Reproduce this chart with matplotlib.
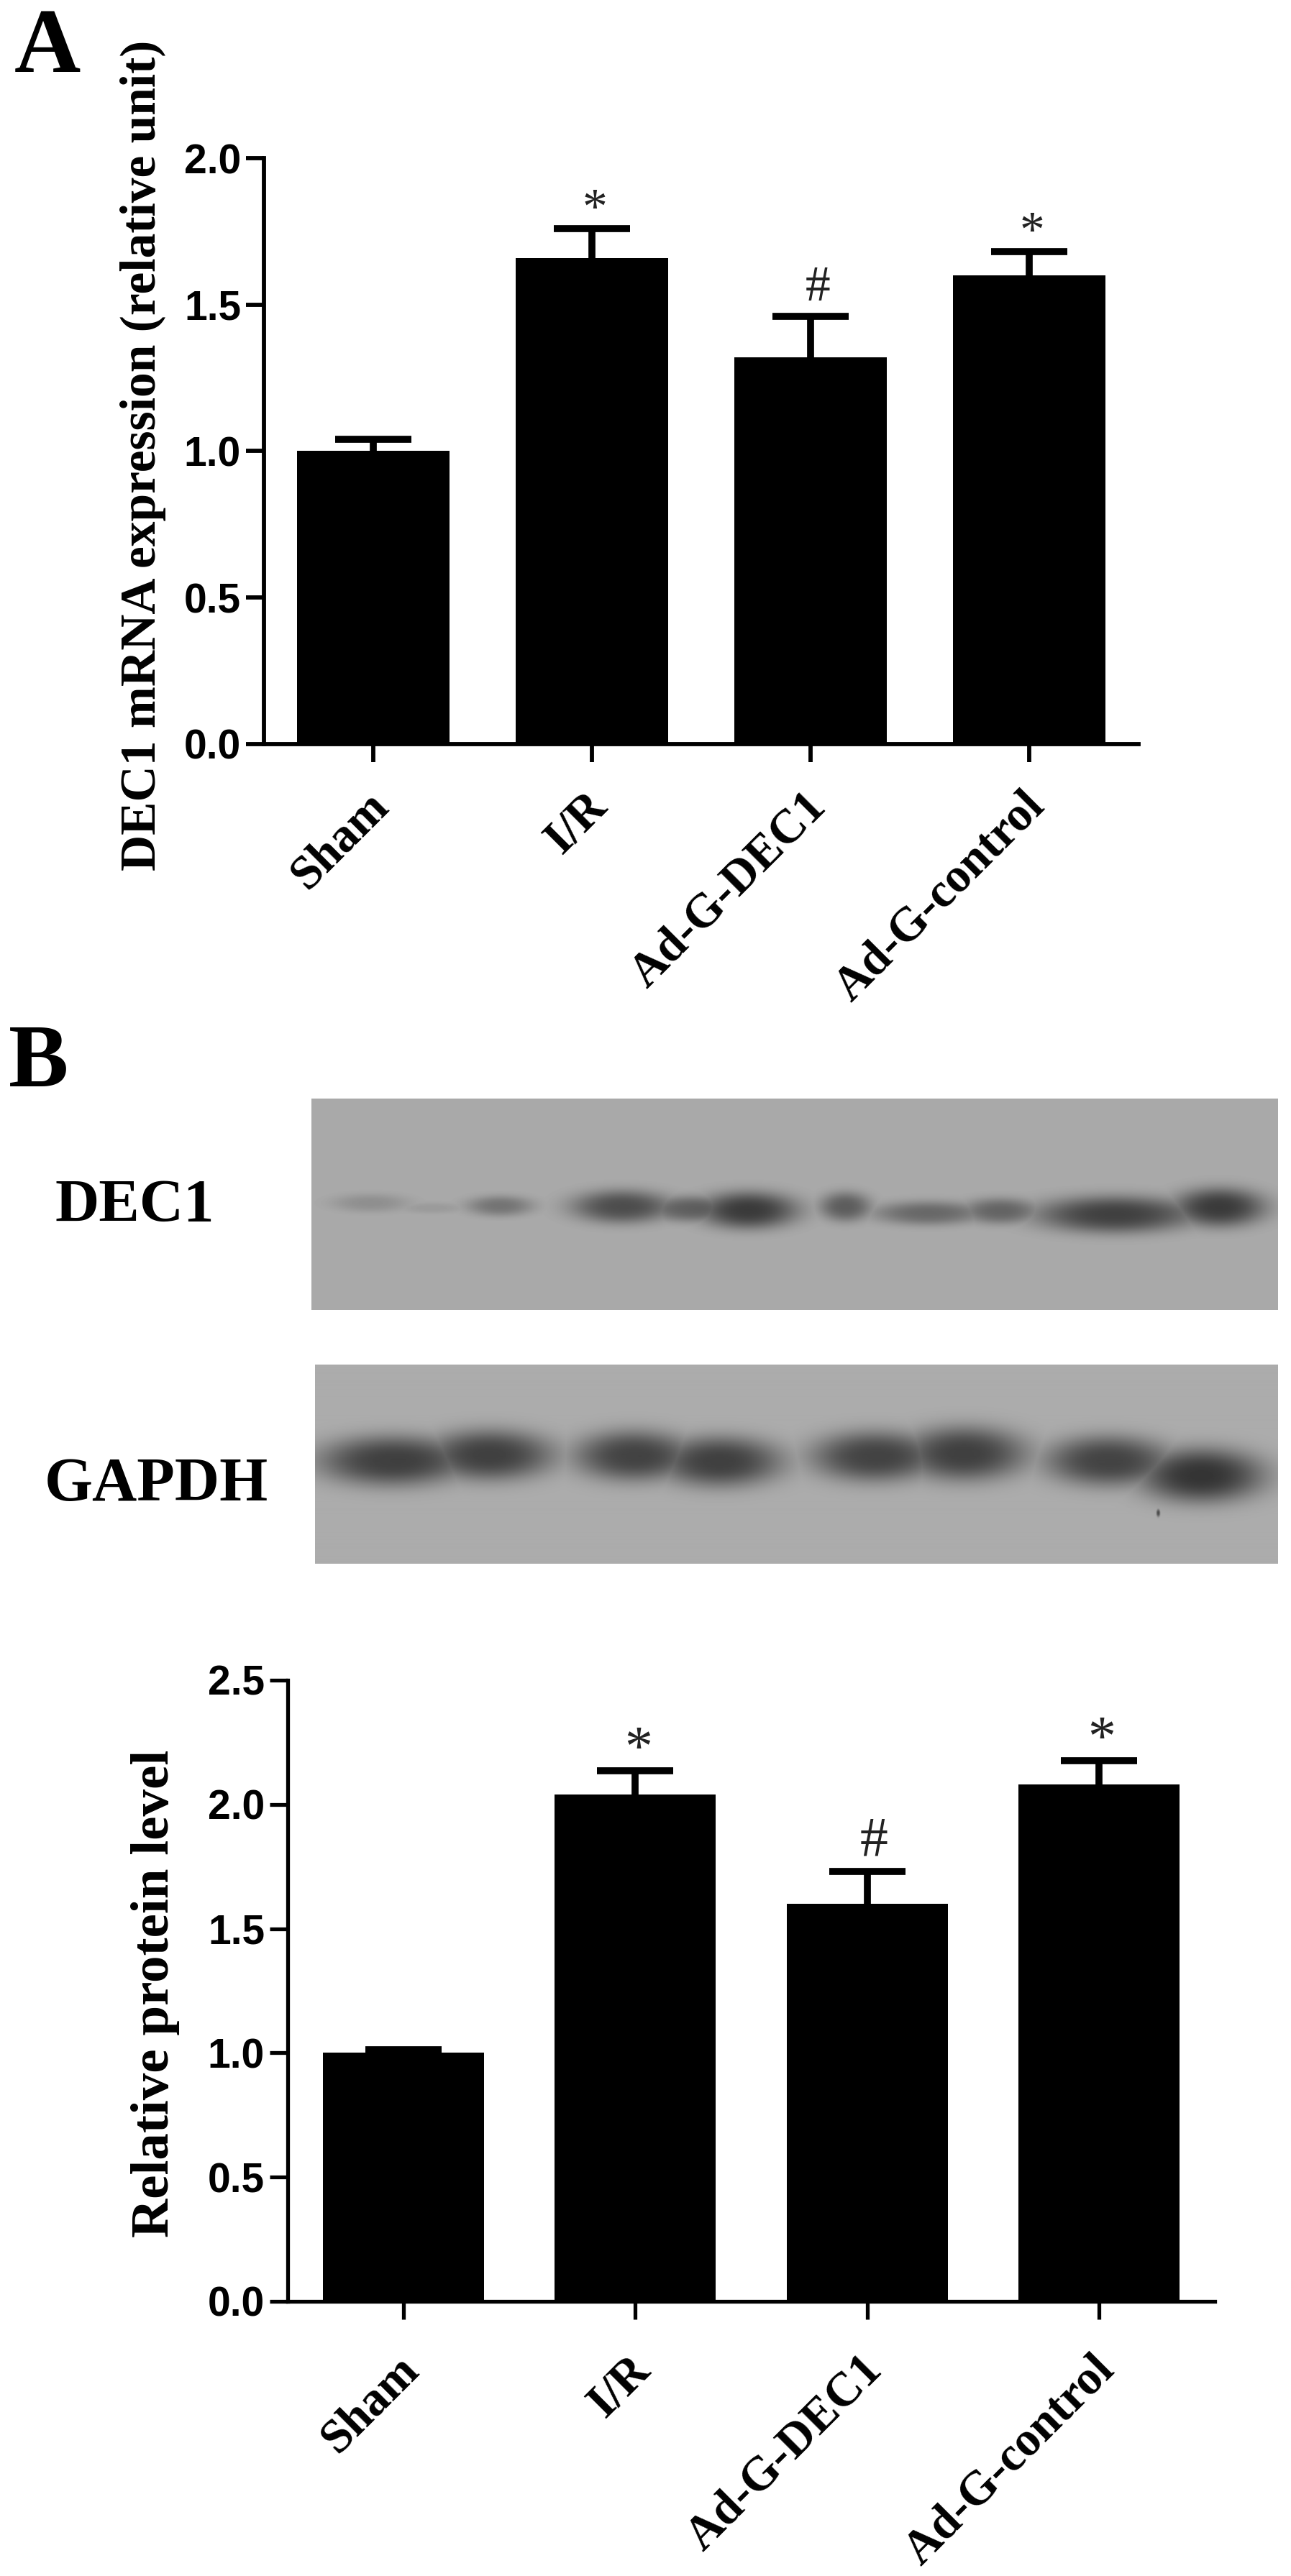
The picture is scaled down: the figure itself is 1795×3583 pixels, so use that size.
import numpy as np
import matplotlib
matplotlib.use("Agg")
import matplotlib.pyplot as plt
from matplotlib.transforms import ScaledTranslation

W, H = 1795, 3583

groups = ["Sham", "I/R", "Ad-G-DEC1", "Ad-G-control"]

mrna_mean = [1.00, 1.66, 1.32, 1.60]
mrna_err = [0.04, 0.10, 0.14, 0.08]
mrna_marks = ["", "*", "#", "*"]

protein_mean = [1.00, 2.04, 1.60, 2.08]
protein_err = [0.012, 0.095, 0.13, 0.095]
protein_marks = ["", "*", "#", "*"]

# blot bands: x centre, y centre, x spread, y spread, darkness (pixels of the blot photo)
dec1_bands = [
    (515, 1673, 42, 10, 0.14), (600, 1680, 36, 6, 0.08), (695, 1677, 36, 11, 0.28),
    (864, 1678, 54, 18, 0.48), (960, 1681, 50, 14, 0.38), (1040, 1683, 54, 20, 0.58),
    (1175, 1678, 28, 16, 0.40), (1290, 1687, 60, 13, 0.34), (1390, 1684, 42, 14, 0.36),
    (1550, 1689, 86, 20, 0.55), (1695, 1679, 50, 21, 0.58),
]
gapdh_bands = [
    (545, 2032, 80, 27, 0.56), (680, 2024, 70, 27, 0.56),
    (880, 2025, 64, 27, 0.54), (1000, 2033, 68, 27, 0.56),
    (1215, 2026, 68, 27, 0.54), (1340, 2022, 68, 29, 0.56),
    (1540, 2032, 68, 27, 0.54), (1670, 2052, 68, 29, 0.62),
    (1610, 2104, 2, 4, 0.5),
]

serif = "Liberation Serif"
sans = "Liberation Sans"


def px_axes(fig, x0, y0, x1, y1):
    return fig.add_axes([x0 / W, 1 - y1 / H, (x1 - x0) / W, (y1 - y0) / H])


def bar_panel(ax, means, errs, marks, top, ticks, ylabel, lw, lab_size, lab_x, lab_y, star_off, star_size, x_pad):
    x = np.arange(len(groups))
    ax.bar(x, means, width=0.695, color="black")
    eb = ax.errorbar(x, means, yerr=[np.zeros(4), errs], fmt="none", ecolor="black",
                     elinewidth=7, capsize=38, capthick=7)
    eb[1][0].set_visible(False)  # no lower cap sticking out of the bar
    for i, m in enumerate(marks):
        if m:
            ax.annotate(m, xy=(i, means[i] + errs[i]), xytext=star_off[m],
                        textcoords="offset points", ha="center", va="center",
                        family=serif, fontsize=star_size, color="#222222")
    ax.set_xlim(-0.5, 3.5)
    ax.set_ylim(0, top)
    ax.set_yticks(ticks)
    ax.set_yticklabels(["%.1f" % t for t in ticks], family=sans, fontweight="bold", fontsize=41)
    ax.set_xticks(x)
    ax.set_xticklabels(groups, rotation=45, ha="right", rotation_mode="anchor",
                       family=serif, fontweight="bold", fontsize=48)
    ax.tick_params(axis="y", width=lw, length=18, pad=5)
    ax.tick_params(axis="x", width=lw, length=18, pad=x_pad)
    # labels sit a little left of the ticks in the original
    shift = ScaledTranslation(-10 / 100, 0, fig.dpi_scale_trans)
    for lab in ax.get_xticklabels():
        lab.set_transform(lab.get_transform() + shift)
    for s in ["top", "right"]:
        ax.spines[s].set_visible(False)
    for s in ["left", "bottom"]:
        ax.spines[s].set_linewidth(lw)
    ax.set_ylabel(ylabel, family=serif, fontweight="bold", fontsize=lab_size)
    ax.yaxis.set_label_coords(lab_x, lab_y)


def blot(fig, x0, y0, x1, y1, bands, bg):
    ax = px_axes(fig, x0, y0, x1, y1)
    xx, yy = np.meshgrid(np.arange(x0, x1), np.arange(y0, y1))
    dark = np.zeros(xx.shape)
    for cx, cy, sx, sy, d in bands:
        r = ((xx - cx) / sx) ** 2 + ((yy - cy) / sy) ** 2
        blob = d * np.exp(-0.5 * r ** 1.4)
        dark = np.maximum(dark, blob) + 0.12 * blob
    ax.imshow(bg * (1 - np.clip(dark, 0, 0.8)), cmap="gray", vmin=0, vmax=255, aspect="auto")
    ax.axis("off")


fig = plt.figure(figsize=(W / 100, H / 100), dpi=100, facecolor="white")

ax_a = px_axes(fig, 367, 220, 1583, 1035)
bar_panel(ax_a, mrna_mean, mrna_err, mrna_marks, 2.0, [0, 0.5, 1.0, 1.5, 2.0],
          "DEC1 mRNA expression (relative unit)", 4.2, 50, -0.112, 0.493,
          {"*": (3, 18), "#": (7, 28)}, 50, 22)

ax_b = px_axes(fig, 400, 2337, 1689, 3201)
bar_panel(ax_b, protein_mean, protein_err, protein_marks, 2.5, [0, 0.5, 1.0, 1.5, 2.0, 2.5],
          "Relative protein level", 3.8, 54, -0.116, 0.495,
          {"*": (3, 20), "#": (7, 30)}, 56, 28)

blot(fig, 433, 1528, 1777, 1822, dec1_bands, 170)
blot(fig, 438, 1898, 1777, 2175, gapdh_bands, 172)

fig.text(20 / W, 1 - 100 / H, "A", family=serif, fontweight="bold", fontsize=92, va="baseline")
fig.text(12 / W, 1 - 1511 / H, "B", family=serif, fontweight="bold", fontsize=90, va="baseline")
fig.text(77 / W, 1 - 1699 / H, "DEC1", family=serif, fontweight="bold", fontsize=61, va="baseline")
fig.text(62 / W, 1 - 2087 / H, "GAPDH", family=serif, fontweight="bold", fontsize=62, va="baseline")

fig.savefig("out.png", dpi=100)
